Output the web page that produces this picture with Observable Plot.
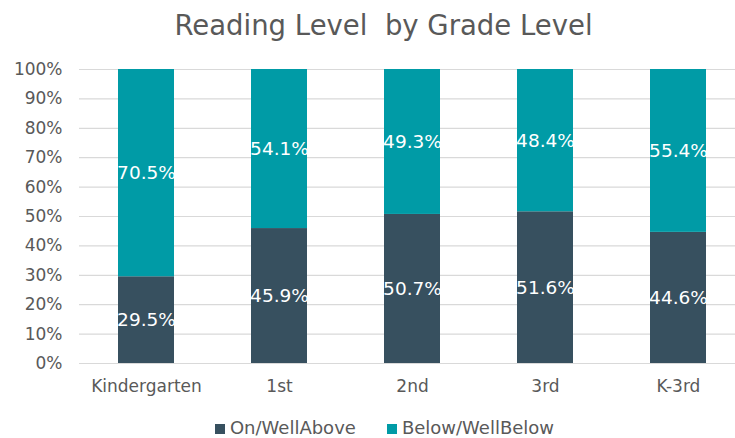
<!DOCTYPE html>
<html><head><meta charset="utf-8">
<script src="https://cdn.jsdelivr.net/npm/d3@7"></script>
<script src="https://cdn.jsdelivr.net/npm/@observablehq/plot@0.6"></script>
<style>
body{margin:0;background:#fff;font-family:"DejaVu Sans",sans-serif;overflow:hidden;}
#chart svg{display:block;}
#title{height:50px;line-height:50px;text-align:center;font-size:27.5px;color:#595959;padding-left:32px;box-sizing:border-box;}
#legend{display:flex;justify-content:center;align-items:center;gap:31px;font-size:18px;line-height:18px;height:18px;color:#595959;margin-top:21px;padding-left:34px;}
#legend span.sw{display:inline-block;width:10px;height:10px;margin-right:5px;}
</style></head>
<body>
<div id="title">Reading Level&nbsp; by Grade Level</div>
<div id="chart"></div>
<div id="legend"></div>
<script>
const grades = ["Kindergarten","1st","2nd","3rd","K-3rd"];
const onAbove = [29.5,45.9,50.7,51.6,44.6];
const belowBelow = [70.5,54.1,49.3,48.4,55.4];
const seriesNames = ["On/WellAbove","Below/WellBelow"];
const seriesColors = ["#37505f","#009ba6"];
const yTicks = [0,10,20,30,40,50,60,70,80,90,100];

const data = [];
grades.forEach((g,i)=>{
  data.push({grade:g, series:seriesNames[0], value:onAbove[i]});
  data.push({grade:g, series:seriesNames[1], value:belowBelow[i]});
});

const chart = Plot.plot({
  width:735, height:348,
  marginLeft:79, marginRight:0, marginTop:19, marginBottom:35,
  style:{fontFamily:'"DejaVu Sans",sans-serif', fontSize:"17px", color:"#595959", background:"#fff"},
  x:{domain:grades, range:[79,744], paddingInner:0.58, paddingOuter:0.29, label:null, tickSize:0, tickPadding:16, fontSize:17.5},
  y:{domain:[0,100], ticks:yTicks, tickFormat:d=>d+"%", label:null, tickSize:0, tickPadding:17},
  color:{domain:seriesNames, range:seriesColors},
  marks:[
    Plot.ruleY(yTicks,{stroke:"#d9d9d9", strokeWidth:1.2}),
    Plot.barY(data, Plot.stackY({x:"grade", y:"value", fill:"series", order:seriesNames})),
    Plot.text(data, Plot.stackY({x:"grade", y:"value", z:"series", order:seriesNames, text:d=>d.value.toFixed(1)+"%", fill:"white", fontSize:18.5})),
    Plot.ruleY([0],{stroke:"#d9d9d9", strokeWidth:1.2})
  ]
});
document.getElementById("chart").appendChild(chart);
const leg = document.getElementById("legend");
seriesNames.forEach((n,i)=>{
  const d=document.createElement("div");
  d.innerHTML=`<span class="sw" style="background:${seriesColors[i]}"></span>${n}`;
  leg.appendChild(d);
});
</script>
</body></html>
